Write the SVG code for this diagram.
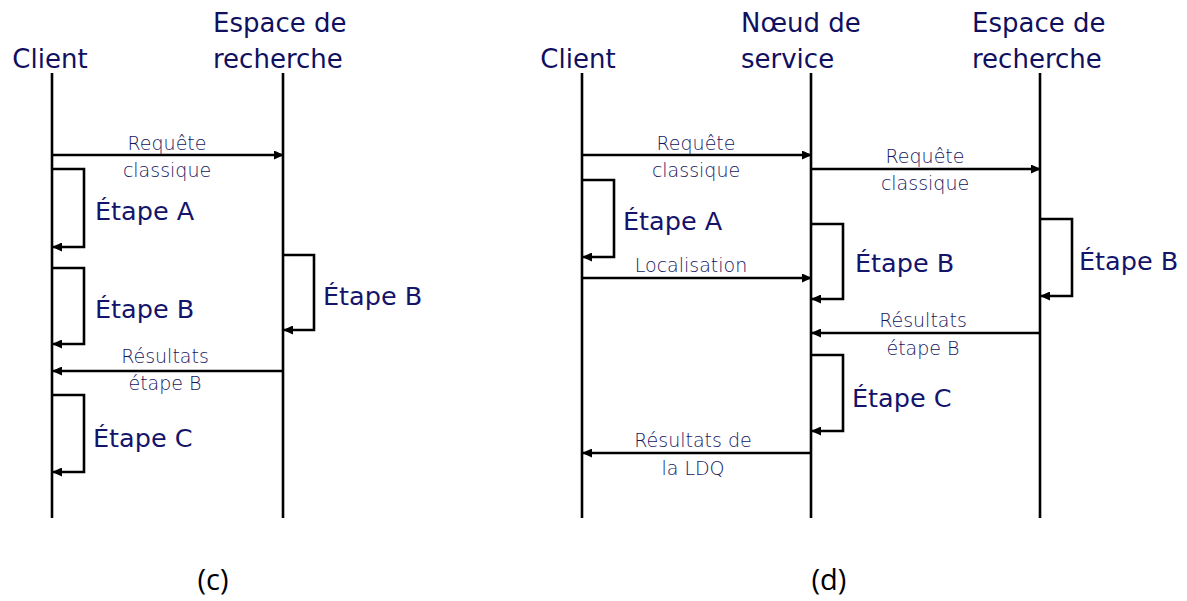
<svg xmlns="http://www.w3.org/2000/svg" width="1187" height="601" viewBox="0 0 1187 601">
<style>
.title{font-family:"DejaVu Sans",Verdana,sans-serif;font-size:26px;fill:#10105f;}
.step{font-family:"DejaVu Sans",Verdana,sans-serif;font-size:25.5px;fill:#14146a;}
.lbl{font-family:"DejaVu Sans",Verdana,sans-serif;font-size:19px;font-weight:300;fill:#15155e;text-anchor:middle;}
.cap{font-family:"Open Sans","DejaVu Sans",sans-serif;font-size:29px;fill:#000;text-anchor:middle;}
.life{stroke:#000;stroke-width:2.6;fill:none;}
.msg{stroke:#000;stroke-width:2.6;fill:none;marker-end:url(#ah);}
</style>
<defs>
<marker id="ah" markerUnits="userSpaceOnUse" markerWidth="10" markerHeight="9" refX="9" refY="4.5" orient="auto">
<path d="M0,0 L10,4.5 L0,9 z" fill="#000"/>
</marker>
</defs>
<rect width="1187" height="601" fill="#fff"/>

<!-- Panel (c) nodes -->
<g id="c-client">
<text class="title" x="50" y="68" text-anchor="middle">Client</text>
<line class="life" x1="52" y1="73" x2="52" y2="518"/>
</g>
<g id="c-espace">
<text class="title" x="213" y="32">Espace de</text>
<text class="title" x="213" y="68">recherche</text>
<line class="life" x1="283" y1="73" x2="283" y2="518"/>
</g>

<!-- Panel (d) nodes -->
<g id="d-client">
<text class="title" x="578" y="68" text-anchor="middle">Client</text>
<line class="life" x1="582" y1="73" x2="582" y2="518"/>
</g>
<g id="d-noeud">
<text class="title" x="741" y="32">Nœud de</text>
<text class="title" x="741" y="68">service</text>
<line class="life" x1="811" y1="73" x2="811" y2="518"/>
</g>
<g id="d-espace">
<text class="title" x="972" y="32">Espace de</text>
<text class="title" x="972" y="68">recherche</text>
<line class="life" x1="1040" y1="73" x2="1040" y2="518"/>
</g>

<g id="connectors">
<!-- (c) -->
<line class="msg" x1="52" y1="155" x2="283" y2="155"/>
<text class="lbl" x="167" y="150">Requête</text>
<text class="lbl" x="167" y="177">classique</text>

<path class="msg" d="M52,169 H84 V247 H53"/>
<text class="step" x="95" y="220">Étape A</text>

<path class="msg" d="M52,268 H84 V344 H53"/>
<text class="step" x="95" y="318">Étape B</text>

<path class="msg" d="M283,255 H314 V330 H284"/>
<text class="step" x="323" y="305">Étape B</text>

<line class="msg" x1="283" y1="371" x2="53" y2="371"/>
<text class="lbl" x="165" y="363">Résultats</text>
<text class="lbl" x="165" y="390">étape B</text>

<path class="msg" d="M52,395 H84 V472 H53"/>
<text class="step" x="93" y="447">Étape C</text>

<!-- (d) -->
<line class="msg" x1="582" y1="155" x2="811" y2="155"/>
<text class="lbl" x="696" y="150">Requête</text>
<text class="lbl" x="696" y="177">classique</text>

<line class="msg" x1="811" y1="169" x2="1040" y2="169"/>
<text class="lbl" x="925" y="163">Requête</text>
<text class="lbl" x="925" y="190">classique</text>

<path class="msg" d="M582,180 H614 V257 H583"/>
<text class="step" x="623" y="230">Étape A</text>

<line class="msg" x1="582" y1="278" x2="811" y2="278"/>
<text class="lbl" x="691" y="272">Localisation</text>

<path class="msg" d="M811,224 H843 V299 H812"/>
<text class="step" x="855" y="272">Étape B</text>

<path class="msg" d="M1040,219 H1072 V296 H1041"/>
<text class="step" x="1079" y="270">Étape B</text>

<line class="msg" x1="1040" y1="333" x2="812" y2="333"/>
<text class="lbl" x="923" y="327">Résultats</text>
<text class="lbl" x="923" y="355">étape B</text>

<path class="msg" d="M811,355 H843 V431 H812"/>
<text class="step" x="852" y="407">Étape C</text>

<line class="msg" x1="811" y1="453" x2="583" y2="453"/>
<text class="lbl" x="693" y="447">Résultats de</text>
<text class="lbl" x="693" y="475">la LDQ</text>
</g>

<text class="cap" x="213" y="590">(c)</text>
<text class="cap" x="829" y="590">(d)</text>
</svg>
